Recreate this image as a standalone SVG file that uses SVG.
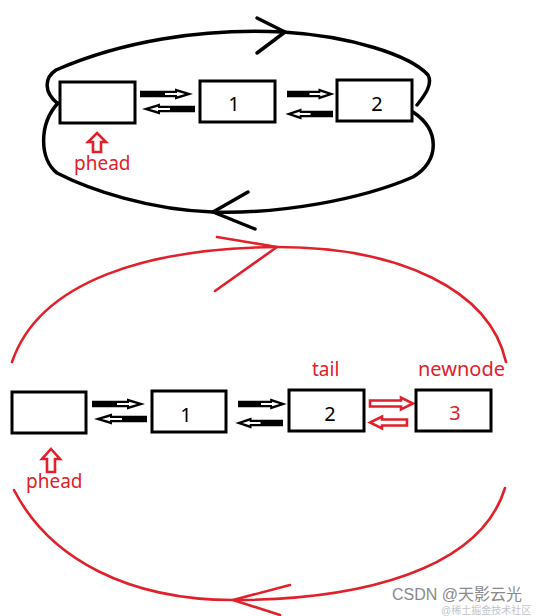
<svg xmlns="http://www.w3.org/2000/svg" xmlns:xlink="http://www.w3.org/1999/xlink" width="544" height="616" viewBox="0 0 544 616">
<style>
.box{fill:#fff;stroke:#000;stroke-width:3}
.num{font-family:"Noto Sans","Liberation Sans",sans-serif;font-size:20px;text-anchor:middle;fill:#000}
.lbl{font-family:"Noto Sans","Liberation Sans",sans-serif;fill:#e0202a}
.bk{fill:none;stroke:#000;stroke-width:3.5;stroke-linecap:round;stroke-linejoin:round}
.rd{fill:none;stroke:#e0202a;stroke-width:2.6;stroke-linecap:round;stroke-linejoin:round}
.hollow{fill:#fff;stroke:#e0202a;stroke-width:2.6;stroke-linejoin:miter}
.wm{font-family:"Liberation Sans","Noto Sans CJK SC",sans-serif}
</style>
<defs>
<g id="arr">
<path d="M0,-3.2 L35,-3.2 L35,-5.5 L53,0 L35,5.5 L35,3.2 L0,3.2 Z" fill="#000"/>
<path d="M25,-1 L37,-1 L37,-2.3 L45,0 L37,2.3 L37,1 L25,1 Z" fill="#fff"/>
</g>
</defs>
<rect width="544" height="616" fill="#fff"/>

<g id="connectors">
<path class="bk" d="M57,103 C44,92 44,78 56,70 C120,42 200,28 283,32 C350,36 410,55 428,75 C433,84 425,95 417,105"/>
<path class="bk" d="M413,112 C440,130 440,160 413,177 C360,200 280,214 213,212 C150,210 90,190 57,173 C40,160 38,125 58,103"/>
<path class="bk" d="M257,18 L285,32 L257,53"/>
<path class="bk" d="M248,192 L213,212 L255,229"/>
<use xlink:href="#arr" href="#arr" transform="translate(140,94)"/>
<use xlink:href="#arr" href="#arr" transform="translate(195,109) scale(-1,1)"/>
<use xlink:href="#arr" href="#arr" transform="translate(287,94) scale(0.9,1)"/>
<use xlink:href="#arr" href="#arr" transform="translate(333,114) scale(-0.9,1)"/>
<path class="rd" d="M12,362 C40,280 150,248 277,247 C400,247 490,290 506,362"/>
<path class="rd" d="M217,237 L277,247 L215,291"/>
<path class="rd" d="M14,490 C50,560 130,600 233,600 C360,600 480,570 505,488"/>
<path class="rd" d="M290,585 L233,600 L280,615"/>
<use xlink:href="#arr" href="#arr" transform="translate(92,404)"/>
<use xlink:href="#arr" href="#arr" transform="translate(147,419) scale(-1,1)"/>
<use xlink:href="#arr" href="#arr" transform="translate(238,404) scale(0.92,1)"/>
<use xlink:href="#arr" href="#arr" transform="translate(283,423) scale(-0.9,1)"/>
<path class="hollow" d="M370,400.5 L401,400.5 L401,397.5 L413,403.5 L401,409.5 L401,406.5 L370,406.5 Z"/>
<path class="hollow" d="M407,419.5 L382,419.5 L382,416.5 L370,422.5 L382,428.5 L382,425.5 L407,425.5 Z"/>
</g>

<g id="top-head">
<rect class="box" x="60" y="82" width="75" height="41"/>
</g>
<g id="top-node1">
<rect class="box" x="200" y="81" width="75" height="41"/>
<text class="num" x="234" y="111">1</text>
</g>
<g id="top-node2">
<rect class="box" x="337" y="80" width="75" height="41"/>
<text class="num" x="377" y="111">2</text>
</g>
<g id="top-phead">
<path class="hollow" d="M97,133 L106,142 L101,142 L101,152 L93,152 L93,142 L88,142 Z"/>
<text class="lbl" x="74" y="170" font-size="19">phead</text>
</g>

<g id="bot-head">
<rect class="box" x="12" y="392" width="74" height="41"/>
</g>
<g id="bot-node1">
<rect class="box" x="152" y="391" width="74" height="41"/>
<text class="num" x="186" y="422">1</text>
</g>
<g id="bot-node2">
<rect class="box" x="289" y="390" width="75" height="41"/>
<text class="num" x="330" y="421">2</text>
</g>
<g id="bot-node3">
<rect class="box" x="416" y="390" width="75" height="41"/>
<text class="num" x="455" y="420" style="fill:#e0202a">3</text>
</g>
<g id="bot-phead">
<path class="hollow" d="M51,449 L60,459 L55,459 L55,472 L47,472 L47,459 L42,459 Z"/>
<text class="lbl" x="26" y="488" font-size="19">phead</text>
</g>
<g id="bot-tail">
<text class="lbl" x="312" y="376" font-size="19">tail</text>
</g>
<g id="bot-newnode">
<text class="lbl" x="418" y="376" font-size="20">newnode</text>
</g>

<g id="watermark">
<text class="wm" x="392" y="600" font-size="16" fill="#8a8a8a">CSDN @天影云光</text>
<text class="wm" x="441" y="614" font-size="10" fill="#c4c4c4">@稀土掘金技术社区</text>
</g>
</svg>
